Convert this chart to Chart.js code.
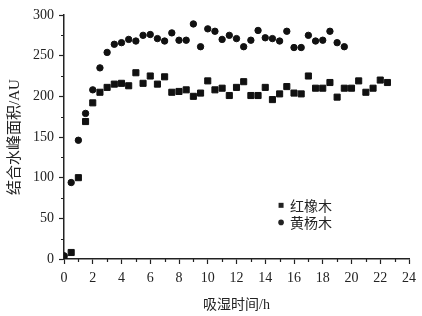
<!DOCTYPE html>
<html>
<head>
<meta charset="utf-8">
<script src="https://cdn.jsdelivr.net/npm/chart.js@4.4.0/dist/chart.umd.min.js"></script>
<style>
  html, body { margin: 0; padding: 0; background: #fff; }
</style>
</head>
<body>
<canvas id="chart" width="422" height="316"></canvas>
<script>
// 红橡木 (squares)
const oakHours = [0, 0.5, 1, 1.5, 2, 2.5, 3, 3.5, 4, 4.5, 5, 5.5, 6, 6.5, 7, 7.5, 8, 8.5, 9, 9.5,
  10, 10.5, 11, 11.5, 12, 12.5, 13, 13.5, 14, 14.5, 15, 15.5, 16, 16.5, 17, 17.5, 18, 18.5, 19, 19.5,
  20, 20.5, 21, 21.5, 22, 22.5];
const oakArea = [2, 8, 100, 169, 192, 205, 211, 215, 216, 213, 229, 216, 225, 215, 224, 205, 206, 208, 200, 204,
  219, 208, 210, 201, 211, 218, 201, 201, 211, 196, 203, 212, 204, 203, 225, 210, 210, 217, 199, 210,
  210, 219, 205, 210, 220, 217];

// 黄杨木 (circles)
const boxHours = [0, 0.5, 1, 1.5, 2, 2.5, 3, 3.5, 4, 4.5, 5, 5.5, 6, 6.5, 7, 7.5, 8, 8.5, 9, 9.5,
  10, 10.5, 11, 11.5, 12, 12.5, 13, 13.5, 14, 14.5, 15, 15.5, 16, 16.5, 17, 17.5, 18, 18.5, 19, 19.5];
const boxArea = [4, 94, 146, 179, 208, 235, 254, 264, 266, 270, 268, 275, 276, 271, 268, 278, 269, 269, 289, 261,
  283, 280, 270, 275, 271, 261, 269, 281, 272, 271, 268, 280, 260, 260, 275, 268, 269, 280, 266, 261];

const seriesNames = ['红橡木', '黄杨木'];
const xTicks = [0, 2, 4, 6, 8, 10, 12, 14, 16, 18, 20, 22, 24];
const yTicks = [0, 50, 100, 150, 200, 250, 300];
const xMinor = [1, 3, 5, 7, 9, 11, 13, 15, 17, 19, 21, 23];
const yMinor = [25, 75, 125, 175, 225, 275];

const ink = '#222';
const serif = "'Liberation Serif', 'Times New Roman', serif";
const mixed = "'Liberation Serif', 'Noto Sans CJK SC', serif";

function toPoints(xs, ys) {
  return xs.map((x, i) => ({ x: x, y: ys[i] }));
}

// minor ticks and the inset legend
const extras = {
  id: 'extras',
  afterDraw(chart) {
    const ctx = chart.ctx;
    const xs = chart.scales.x, ys = chart.scales.y;
    ctx.save();
    ctx.strokeStyle = ink;
    ctx.lineWidth = 1.2;
    ctx.beginPath();
    xMinor.forEach(v => {
      const px = Math.round(xs.getPixelForValue(v)) + 0.5;
      ctx.moveTo(px, ys.bottom);
      ctx.lineTo(px, ys.bottom + 3);
    });
    yMinor.forEach(v => {
      const py = Math.round(ys.getPixelForValue(v)) + 0.5;
      ctx.moveTo(xs.left, py);
      ctx.lineTo(xs.left - 3, py);
    });
    ctx.stroke();

    // legend
    const lx = xs.getPixelForValue(15.1);
    const rows = [ys.getPixelForValue(66), ys.getPixelForValue(45)];
    ctx.fillStyle = ink;
    ctx.fillRect(lx - 2.5, rows[0] - 2.5, 5, 5);
    ctx.beginPath();
    ctx.arc(lx, rows[1], 2.8, 0, Math.PI * 2);
    ctx.fill();
    ctx.font = "14px 'Noto Sans CJK SC'";
    ctx.textBaseline = 'middle';
    ctx.textAlign = 'left';
    ctx.fillText(seriesNames[0], lx + 9, rows[0]);
    ctx.fillText(seriesNames[1], lx + 9, rows[1]);
    ctx.restore();
  }
};

new Chart(document.getElementById('chart').getContext('2d'), {
  type: 'scatter',
  data: {
    datasets: [{
      label: seriesNames[0],
      data: toPoints(oakHours, oakArea),
      pointStyle: 'rect',
      pointRadius: 4.3,
      borderWidth: 1,
      backgroundColor: '#111',
      borderColor: '#111'
    }, {
      label: seriesNames[1],
      data: toPoints(boxHours, boxArea),
      pointStyle: 'circle',
      pointRadius: 3.2,
      borderWidth: 1,
      backgroundColor: '#111',
      borderColor: '#111'
    }]
  },
  options: {
    responsive: false,
    animation: false,
    layout: { padding: { left: 0, top: 15, right: 13, bottom: 0 } },
    plugins: {
      legend: { display: false },
      tooltip: { enabled: false }
    },
    scales: {
      x: {
        type: 'linear',
        min: 0,
        max: 24,
        afterFit(scale) { scale.height = 57; },
        afterBuildTicks(scale) { scale.ticks = xTicks.map(v => ({ value: v })); },
        border: { color: ink, width: 1.5 },
        grid: { drawOnChartArea: false, drawTicks: true, tickLength: 5, color: ink, tickWidth: 1.2 },
        ticks: { color: ink, font: { family: serif, size: 14 }, padding: 6, maxRotation: 0 },
        title: {
          display: true,
          text: '吸湿时间/h',
          color: ink,
          font: { family: mixed, size: 14 },
          padding: { top: 0, bottom: 2 }
        }
      },
      y: {
        min: 0,
        max: 300,
        afterFit(scale) { scale.width = 64; },
        afterBuildTicks(scale) { scale.ticks = yTicks.map(v => ({ value: v })); },
        border: { color: ink, width: 1.5 },
        grid: { drawOnChartArea: false, drawTicks: true, tickLength: 5, color: ink, tickWidth: 1.2 },
        ticks: { color: ink, font: { family: serif, size: 14 }, padding: 5 },
        title: {
          display: true,
          text: '结合水峰面积/AU',
          color: ink,
          font: { family: mixed, size: 15 },
          padding: { top: 6, bottom: 0 }
        }
      }
    }
  },
  plugins: [extras]
});
</script>
</body>
</html>
